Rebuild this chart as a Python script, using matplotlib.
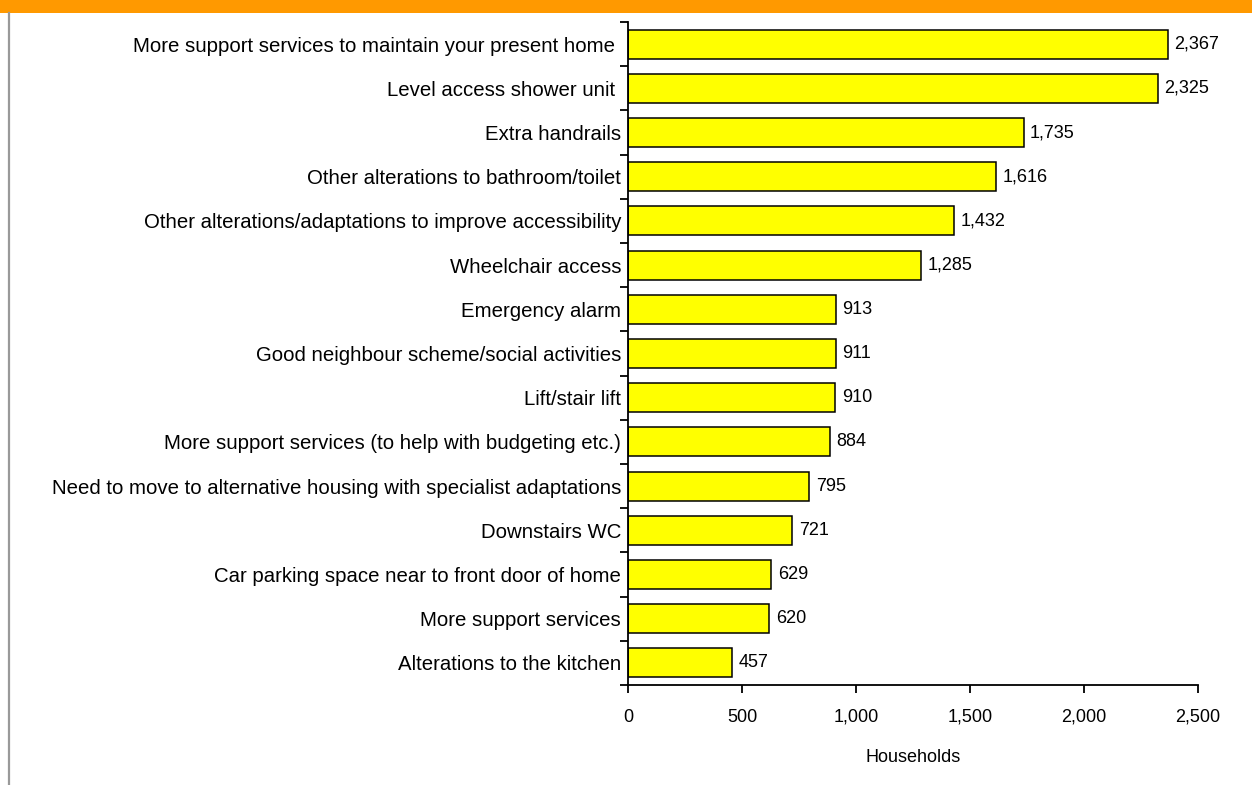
import numpy as np
import matplotlib.pyplot as plt
from matplotlib.patches import Rectangle
from matplotlib.lines import Line2D
from matplotlib.ticker import FuncFormatter

plt.rcParams['font.family'] = ['Liberation Sans', 'DejaVu Sans']

categories = [
    'More support services to maintain your present home ',
    'Level access shower unit ',
    'Extra handrails',
    'Other alterations to bathroom/toilet',
    'Other alterations/adaptations to improve accessibility',
    'Wheelchair access',
    'Emergency alarm',
    'Good neighbour scheme/social activities',
    'Lift/stair lift',
    'More support services (to help with budgeting etc.)',
    'Need to move to alternative housing with specialist adaptations',
    'Downstairs WC',
    'Car parking space near to front door of home',
    'More support services',
    'Alterations to the kitchen',
]
households = [2367, 2325, 1735, 1616, 1432, 1285, 913, 911, 910, 884, 795, 721, 629, 620, 457]
x_ticks = [0, 500, 1000, 1500, 2000, 2500]

fig = plt.figure(figsize=(12.52, 7.85), dpi=100)

# orange header band and grey left rule
fig.patches.append(Rectangle((0, 1 - 13 / 785), 1, 13 / 785, transform=fig.transFigure,
                             facecolor='#FF9900', edgecolor='none'))
fig.lines.append(Line2D([8.5 / 1252, 8.5 / 1252], [0, 1 - 13 / 785], transform=fig.transFigure,
                        color='#999999', lw=1.6))

ax = fig.add_axes([628 / 1252, 100 / 785, 570 / 1252, 663 / 785])

n = len(categories)
y = np.arange(n)
bars = ax.barh(y, households, height=0.66, color='#FFFF00', edgecolor='black', linewidth=1.1)
ax.set_ylim(n - 0.5, -0.5)
ax.set_xlim(0, 2500)

for yi, v in zip(y, households):
    ax.text(v + 28, yi, f'{v:,}', va='center', ha='left', fontsize=13)

ax.set_yticks(y)
ax.set_yticklabels(categories, fontsize=14.7)
ax.tick_params(axis='y', which='major', length=0, pad=5)
ax.set_yticks(np.arange(-0.5, n, 1), minor=True)
ax.tick_params(axis='y', which='minor', length=6, width=1.3, direction='out')

ax.set_xticks(x_ticks)
ax.xaxis.set_major_formatter(FuncFormatter(lambda v, p: f'{int(v):,}'))
ax.tick_params(axis='x', length=6, width=1.3, direction='out', labelsize=13, pad=11)
ax.set_xlabel('Households', fontsize=13, labelpad=17)

for s in ['top', 'right']:
    ax.spines[s].set_visible(False)
for s in ['left', 'bottom']:
    ax.spines[s].set_linewidth(1.3)

fig.savefig('out.png', dpi=100)
